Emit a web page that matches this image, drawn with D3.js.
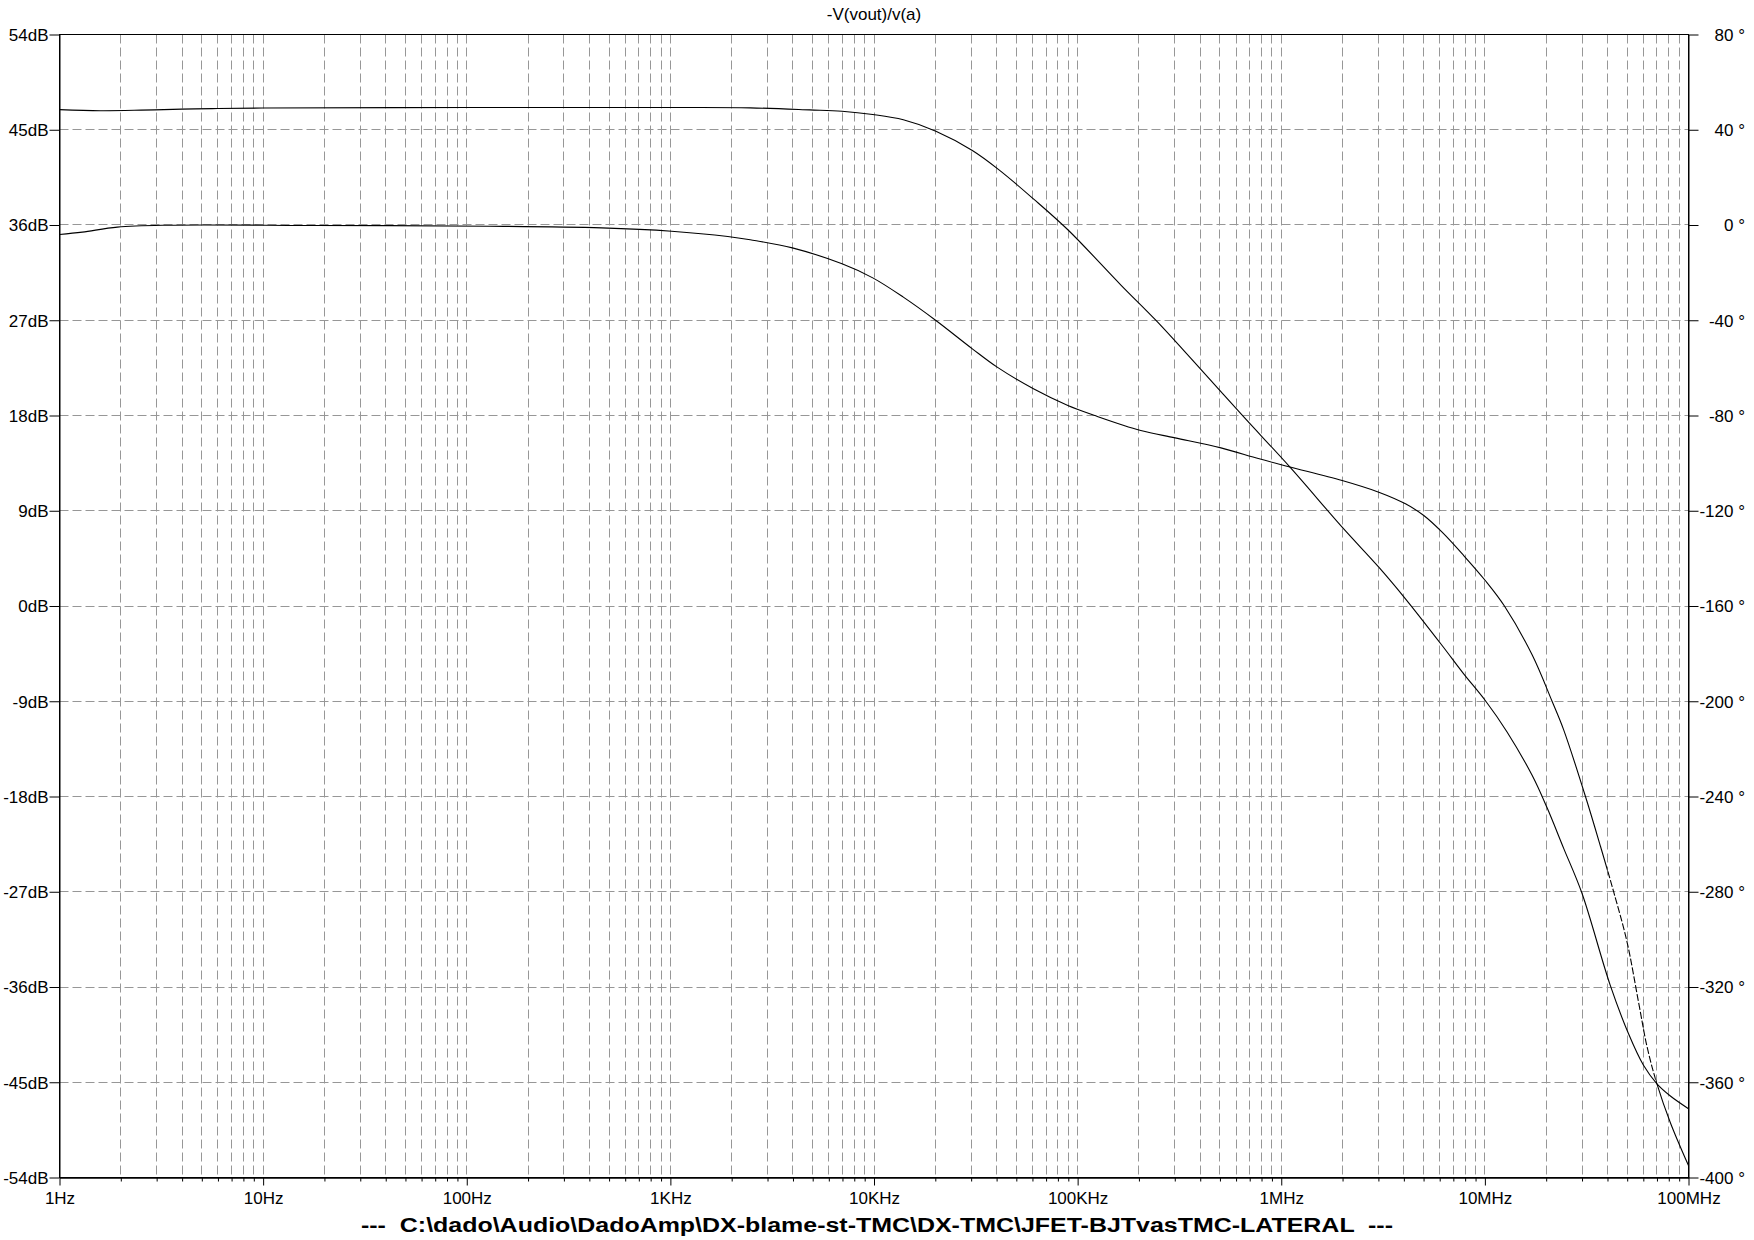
<!DOCTYPE html>
<html><head><meta charset="utf-8">
<script src="https://cdn.jsdelivr.net/npm/d3@7"></script>
<style>
body{margin:0;background:#fff;}
svg text{font-family:"Liberation Sans",Arial,Helvetica,sans-serif;fill:#000;}
</style>
</head><body>
<svg id="chart" width="1754" height="1240"></svg>
<script>
// ---------------- data ----------------
const title = "-V(vout)/v(a)";
const caption = "---  C:\\dado\\Audio\\DadoAmp\\DX-blame-st-TMC\\DX-TMC\\JFET-BJTvasTMC-LATERAL  ---";
const freqTicks = [1, 10, 100, 1e3, 1e4, 1e5, 1e6, 1e7, 1e8];
const freqLabels = ["1Hz", "10Hz", "100Hz", "1KHz", "10KHz", "100KHz", "1MHz", "10MHz", "100MHz"];
const dbTicks = [54, 45, 36, 27, 18, 9, 0, -9, -18, -27, -36, -45, -54];
const phaseTicks = [80, 40, 0, -40, -80, -120, -160, -200, -240, -280, -320, -360, -400];

// magnitude: log10(frequency/Hz) and dB
const magLogF = [0, 0.2, 0.4, 0.6, 0.75, 1.0, 2.0, 3.0, 3.392, 3.684, 3.843, 3.994, 4.144, 4.304, 4.483, 4.614, 4.783, 4.952, 5.215, 5.385, 5.573, 5.817, 6.043, 6.299, 6.479, 6.61, 6.79, 6.896, 7.002, 7.109, 7.232, 7.304, 7.387, 7.476, 7.615, 7.705, 7.779, 7.845, 7.911, 8.0];
const magDb = [46.9, 46.8, 46.85, 46.95, 47.0, 47.05, 47.1, 47.1, 47.07, 46.88, 46.75, 46.44, 45.94, 44.86, 43.04, 41.21, 38.47, 35.55, 30.28, 26.98, 23.04, 17.84, 13.12, 7.45, 3.67, 0.68, -3.73, -6.41, -8.93, -11.9, -16.0, -19.0, -22.9, -27.1, -35.8, -40.4, -43.4, -45.15, -46.3, -47.5];

// phase: log10(frequency/Hz) and degrees
const phaseLogF = [0, 0.112, 0.284, 0.525, 1.249, 2.11, 2.662, 3.006, 3.282, 3.392, 3.599, 3.843, 3.994, 4.144, 4.304, 4.483, 4.605, 4.783, 4.952, 5.084, 5.31, 5.479, 5.704, 5.892, 6.043, 6.299, 6.479, 6.61, 6.70, 6.79, 6.896, 7.002, 7.096, 7.232, 7.33, 7.387, 7.494, 7.568, 7.633, 7.698, 7.756, 7.797, 7.845, 7.911, 8.0];
const phaseDeg = [-4.0, -3.0, -0.9, -0.1, -0.2, -0.5, -1.2, -2.6, -4.8, -6.2, -9.6, -16.3, -22.2, -30.3, -40.1, -52.0, -59.7, -68.8, -75.8, -80.0, -86.3, -89.4, -93.6, -98.2, -101.6, -107.3, -112.2, -117.1, -122.0, -129.0, -138.8, -149.3, -160.0, -180.5, -200.0, -212.0, -240.0, -261.0, -280.2, -301.0, -327.0, -345.3, -360.7, -377.0, -395.0];

// frequency span where the phase trace shows as dashed
const phaseDashFrom = 4.0e7, phaseDashTo = 6.9e7;

// ---------------- layout ----------------
const L = 59.5, R = 1688.5, T = 34.5, B = 1177.5;
const svg = d3.select("#chart");

const x = d3.scaleLog().domain([1, 1e8]).range([L, R]);
const yDb = d3.scaleLinear().domain([-54, 54]).range([B, T]);
const yPh = d3.scaleLinear().domain([-400, 80]).range([B, T]);

const gridColor = "#979797";
const dash = "9,4";

// minor/major frequency positions
const allFreqs = [];
for (let d = 0; d < 8; d++) for (let k = 1; k <= 9; k++) allFreqs.push(k * Math.pow(10, d));
allFreqs.push(1e8);

const px = v => Math.round(v - 0.5) + 0.5;

// vertical grid
svg.append("g").selectAll("line")
  .data(allFreqs.filter(f => f > 1 && f < 1e8))
  .join("line")
  .attr("x1", d => px(x(d))).attr("x2", d => px(x(d)))
  .attr("y1", T).attr("y2", B)
  .attr("stroke", gridColor).attr("stroke-width", 1).attr("stroke-dasharray", dash);

// horizontal grid
svg.append("g").selectAll("line")
  .data(dbTicks.filter(v => v > -54 && v < 54))
  .join("line")
  .attr("x1", L).attr("x2", R)
  .attr("y1", d => px(yDb(d))).attr("y2", d => px(yDb(d)))
  .attr("stroke", gridColor).attr("stroke-width", 1).attr("stroke-dasharray", dash);

// frame
svg.append("rect").attr("x", L).attr("y", T).attr("width", R - L).attr("height", B - T)
  .attr("fill", "none").attr("stroke", "#000").attr("stroke-width", 1);

// left axis
const leftAxis = d3.axisLeft(yDb).tickValues(dbTicks).tickFormat(d => d + "dB")
  .tickSize(10).tickSizeOuter(0).tickPadding(1);
const gL = svg.append("g").attr("transform", `translate(${L},0)`).call(leftAxis);
gL.selectAll("text").attr("font-size", 17).attr("dy", "0.35em");

// right axis
const rightAxis = d3.axisRight(yPh).tickValues(phaseTicks).tickFormat(d => d + " °")
  .tickSize(10).tickSizeOuter(0);
const gR = svg.append("g").attr("transform", `translate(${R},0)`).call(rightAxis);
gR.selectAll("text").attr("font-size", 17).attr("text-anchor", "end").attr("x", 1745 - R).attr("dy", "0.35em");

// bottom minor ticks
const bottomMinor = d3.axisBottom(x).tickValues(allFreqs.filter(f => !freqTicks.includes(f)))
  .tickFormat("").tickSize(4).tickSizeOuter(0);
svg.append("g").attr("transform", `translate(0,${B})`).call(bottomMinor);

// bottom major ticks & labels
const bottomMajor = d3.axisBottom(x).tickValues(freqTicks)
  .tickFormat((d, i) => freqLabels[i]).tickSize(8).tickSizeOuter(0).tickPadding(6);
const gB = svg.append("g").attr("transform", `translate(0,${B})`).call(bottomMajor);
gB.selectAll("text").attr("font-size", 17);

svg.selectAll(".domain").attr("stroke", "#000");
svg.selectAll(".tick line").attr("stroke", "#000");

// curves
const magData = magLogF.map((v, i) => ({f: Math.pow(10, v), v: magDb[i]}));
const phData = phaseLogF.map((v, i) => ({f: Math.pow(10, v), v: phaseDeg[i]}));

const curve = d3.curveCatmullRom.alpha(0.5);
const magLine = d3.line().x(d => x(d.f)).y(d => yDb(d.v)).curve(curve);
const phLine = d3.line().x(d => x(d.f)).y(d => yPh(d.v)).curve(curve);

const defs = svg.append("defs");
const xd0 = x(phaseDashFrom), xd1 = x(phaseDashTo);
defs.append("clipPath").attr("id", "solidA").append("rect")
  .attr("x", 0).attr("y", 0).attr("width", xd0).attr("height", 1240);
defs.append("clipPath").attr("id", "solidB").append("rect")
  .attr("x", xd1).attr("y", 0).attr("width", 1754 - xd1).attr("height", 1240);
defs.append("clipPath").attr("id", "dashed").append("rect")
  .attr("x", xd0).attr("y", 0).attr("width", xd1 - xd0).attr("height", 1240);

svg.append("path").datum(magData).attr("d", magLine)
  .attr("fill", "none").attr("stroke", "#000").attr("stroke-width", 1.1);

["solidA", "solidB"].forEach(id => {
  svg.append("path").datum(phData).attr("d", phLine).attr("clip-path", `url(#${id})`)
    .attr("fill", "none").attr("stroke", "#000").attr("stroke-width", 1.1);
});
svg.append("path").datum(phData).attr("d", phLine).attr("clip-path", "url(#dashed)")
  .attr("fill", "none").attr("stroke", "#000").attr("stroke-width", 1.1).attr("stroke-dasharray", "7,2");

// title
svg.append("text").attr("x", (L + R) / 2).attr("y", 20).attr("text-anchor", "middle")
  .attr("font-size", 17).text(title);

// caption
svg.append("text").attr("x", 877).attr("y", 1232).attr("text-anchor", "middle")
  .attr("font-size", 20).attr("font-weight", "bold")
  .attr("textLength", 1032).attr("lengthAdjust", "spacingAndGlyphs")
  .style("white-space", "pre").attr("xml:space", "preserve").text(caption);
</script>
</body></html>
